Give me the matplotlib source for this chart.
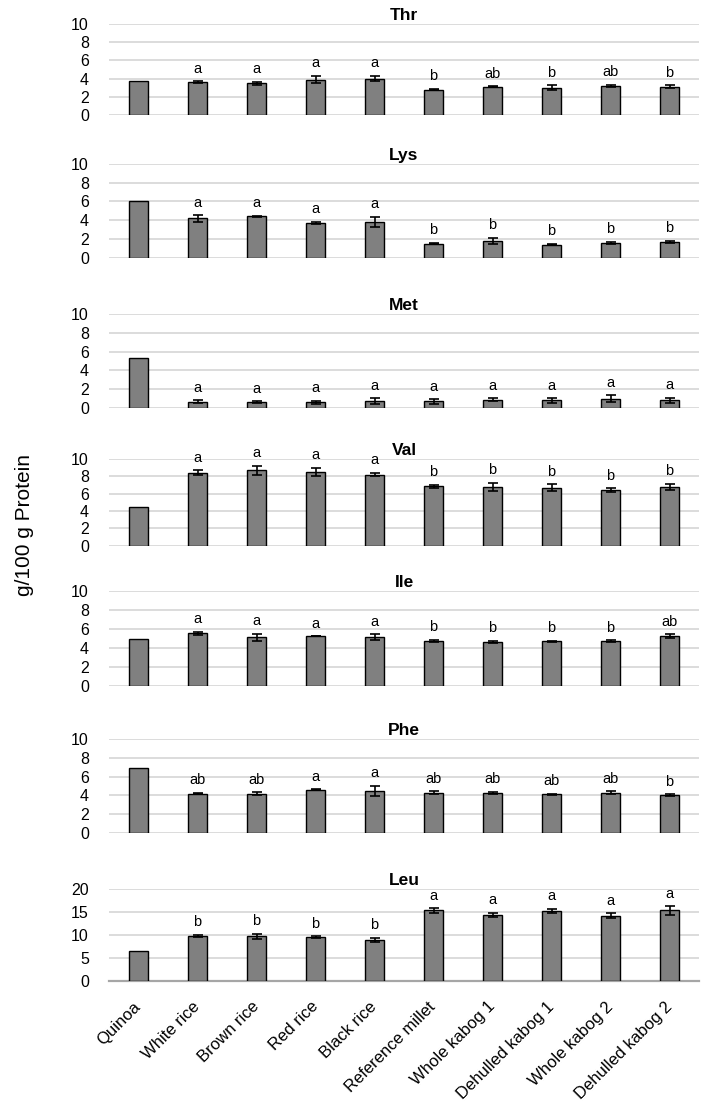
import matplotlib
matplotlib.use('Agg')
import matplotlib.pyplot as plt
import numpy as np

plt.rcParams['font.family'] = ['Liberation Sans', 'DejaVu Sans']

categories = ['Quinoa', 'White rice', 'Brown rice', 'Red rice', 'Black rice',
              'Reference millet', 'Whole kabog 1', 'Dehulled kabog 1',
              'Whole kabog 2', 'Dehulled kabog 2']

thr_vals = [3.7, 3.6, 3.5, 3.9, 4.0, 2.8, 3.1, 3.0, 3.2, 3.1]
thr_err = [0, 0.1, 0.15, 0.4, 0.3, 0.1, 0.05, 0.25, 0.15, 0.15]
thr_letters = ['', 'a', 'a', 'a', 'a', 'b', 'ab', 'b', 'ab', 'b']

lys_vals = [6.0, 4.2, 4.4, 3.7, 3.8, 1.5, 1.8, 1.4, 1.6, 1.7]
lys_err = [0, 0.35, 0.1, 0.12, 0.55, 0.07, 0.35, 0.07, 0.12, 0.12]
lys_letters = ['', 'a', 'a', 'a', 'a', 'b', 'b', 'b', 'b', 'b']

met_vals = [5.3, 0.65, 0.6, 0.6, 0.75, 0.7, 0.9, 0.8, 1.0, 0.8]
met_err = [0, 0.15, 0.1, 0.15, 0.3, 0.25, 0.15, 0.25, 0.35, 0.3]
met_letters = ['', 'a', 'a', 'a', 'a', 'a', 'a', 'a', 'a', 'a']

val_vals = [4.5, 8.4, 8.7, 8.5, 8.2, 6.85, 6.8, 6.7, 6.4, 6.8]
val_err = [0, 0.3, 0.55, 0.5, 0.2, 0.15, 0.45, 0.4, 0.2, 0.35]
val_letters = ['', 'a', 'a', 'a', 'a', 'b', 'b', 'b', 'b', 'b']

ile_vals = [4.9, 5.5, 5.1, 5.2, 5.1, 4.7, 4.6, 4.7, 4.7, 5.2]
ile_err = [0, 0.2, 0.35, 0.02, 0.3, 0.15, 0.1, 0.05, 0.1, 0.2]
ile_letters = ['', 'a', 'a', 'a', 'a', 'b', 'b', 'b', 'b', 'ab']

phe_vals = [6.9, 4.2, 4.2, 4.6, 4.5, 4.3, 4.3, 4.1, 4.3, 4.0]
phe_err = [0, 0.1, 0.15, 0.05, 0.55, 0.15, 0.1, 0.05, 0.15, 0.1]
phe_letters = ['', 'ab', 'ab', 'a', 'a', 'ab', 'ab', 'ab', 'ab', 'b']

leu_vals = [6.6, 9.8, 9.7, 9.5, 8.9, 15.3, 14.3, 15.2, 14.2, 15.3]
leu_err = [0, 0.25, 0.6, 0.25, 0.5, 0.5, 0.45, 0.5, 0.45, 0.9]
leu_letters = ['', 'b', 'b', 'b', 'b', 'a', 'a', 'a', 'a', 'a']

panel_names = ['Thr', 'Lys', 'Met', 'Val', 'Ile', 'Phe', 'Leu']
panel_vals = [thr_vals, lys_vals, met_vals, val_vals, ile_vals, phe_vals, leu_vals]
panel_errs = [thr_err, lys_err, met_err, val_err, ile_err, phe_err, leu_err]
panel_letters = [thr_letters, lys_letters, met_letters, val_letters,
                 ile_letters, phe_letters, leu_letters]
y_ticks_small = [0, 2, 4, 6, 8, 10]
y_ticks_leu = [0, 5, 10, 15, 20]

# layout in pixels (top gridline, zero line)
W, H = 713, 1112
rows = [(24, 115), (164, 257.7), (314, 408), (459, 545.7),
        (590.7, 685.7), (739, 833), (888.7, 981.3)]
left_px, right_px = 109, 699

fig = plt.figure(figsize=(W / 100, H / 100), dpi=100)
x = np.arange(len(categories))

for i, name in enumerate(panel_names):
    top, bot = rows[i]
    ax = fig.add_axes([left_px / W, 1 - bot / H, (right_px - left_px) / W, (bot - top) / H])
    vals = np.array(panel_vals[i])
    errs = np.array(panel_errs[i])
    ticks = y_ticks_leu if name == 'Leu' else y_ticks_small
    ax.bar(x, vals, width=0.33, color='#808080', edgecolor='black', linewidth=1.0, zorder=3)
    ax.errorbar(x[1:], vals[1:], yerr=errs[1:], fmt='none', ecolor='black',
                elinewidth=1.2, capsize=3.5, capthick=1.2, zorder=4)
    for xi, v, e, lab in zip(x, vals, errs, panel_letters[i]):
        if lab:
            ax.annotate(lab, (xi, v + e), xytext=(0, 4), textcoords='offset points',
                        ha='center', va='bottom', fontsize=10.5, annotation_clip=False)
    ax.set_xlim(-0.5, len(categories) - 0.5)
    ax.set_ylim(ticks[0], ticks[-1])
    ax.set_yticks(ticks)
    ax.yaxis.grid(True, color='#d9d9d9', linewidth=1.3)
    ax.set_axisbelow(True)
    for s in ax.spines.values():
        s.set_visible(False)
    ax.tick_params(axis='y', left=False, labelsize=11.5, pad=11)
    ax.set_title(name, fontweight='bold', fontsize=12.5, pad=3)
    ax.set_xticks(x)
    if name == 'Leu':
        ax.spines['bottom'].set_visible(True)
        ax.spines['bottom'].set_color('#a6a6a6')
        ax.spines['bottom'].set_linewidth(1.6)
        ax.set_xticklabels(categories, rotation=45, ha='right', va='center',
                           rotation_mode='anchor', fontsize=12)
        ax.tick_params(axis='x', bottom=False, pad=13)
    else:
        ax.set_xticklabels([])
        ax.tick_params(axis='x', bottom=False)

fig.text(24 / W, 1 - 525 / H, 'g/100 g Protein', rotation=90, ha='center', va='center',
         fontsize=15)

fig.savefig('out.png', dpi=100)
